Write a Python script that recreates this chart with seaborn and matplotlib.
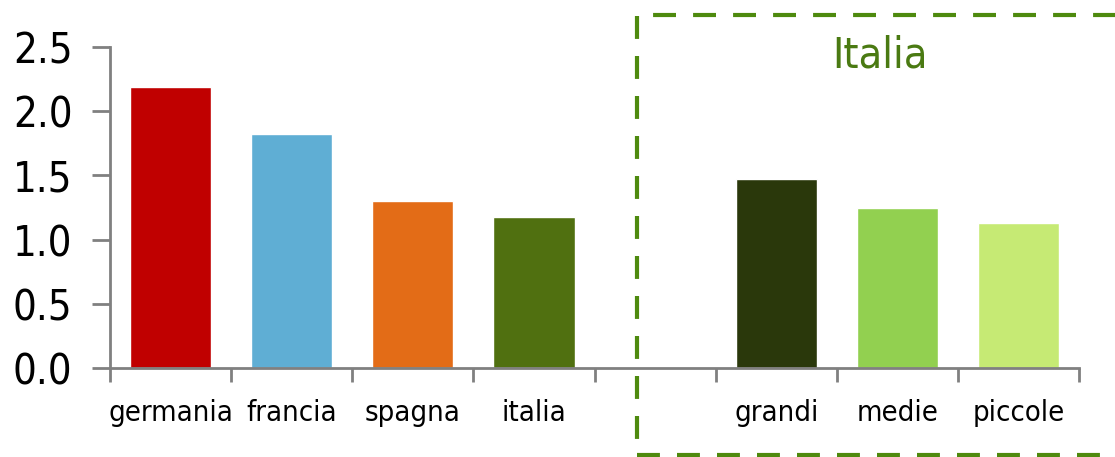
import pandas as pd
import numpy as np
import matplotlib.pyplot as plt
import seaborn as sns
from matplotlib.patches import Rectangle

# Data
categorie = ["germania", "francia", "spagna", "italia", "grandi", "medie", "piccole"]
valori = [2.19, 1.82, 1.30, 1.18, 1.47, 1.25, 1.13]
colori = ["#C00000", "#5FAED4", "#E36C17", "#507010", "#2A380B", "#92D050", "#C6EA74"]
ordine = ["germania", "francia", "spagna", "italia", "vuoto", "grandi", "medie", "piccole"]
etichette = ["germania", "francia", "spagna", "italia", "", "grandi", "medie", "piccole"]
y_ticks = [0.0, 0.5, 1.0, 1.5, 2.0, 2.5]

df = pd.DataFrame({"cat": categorie, "val": valori})

sns.set_style("white")
plt.rcParams['font.family'] = ['DejaVu Sans']
plt.rcParams['font.stretch'] = 'condensed'

fig = plt.figure(figsize=(11.15, 4.57), dpi=100)
ax = fig.add_axes([0.0987, 0.1947, 0.869, 0.7023])

sns.barplot(data=df, x="cat", y="val", hue="cat", order=ordine,
            palette=dict(zip(categorie, colori)), legend=False,
            width=0.67, saturation=1, ax=ax)

ax.set_xlim(-0.5, 7.5)
ax.set_ylim(0, 2.5)
ax.set_xlabel("")
ax.set_ylabel("")

# ticks at boundaries, labels at centres
ax.set_xticks(np.arange(-0.5, 8, 1))
ax.set_xticklabels([])
ax.set_xticks(np.arange(8), minor=True)
ax.set_xticklabels(etichette, minor=True, fontsize=21, color="black",
                   fontstretch="condensed")
ax.tick_params(axis="x", which="minor", bottom=False, length=0, pad=22)
ax.tick_params(axis="x", which="major", bottom=True, length=10, width=2,
               color="#808080", direction="out")

ax.set_yticks(y_ticks)
ax.set_yticklabels([f"{v:.1f}" for v in y_ticks], fontsize=30, color="black",
                   fontstretch="condensed")
ax.tick_params(axis="y", left=True, length=13, width=2, color="#808080",
               direction="out", pad=14)

sns.despine(ax=ax, top=True, right=True)
for s in ["left", "bottom"]:
    ax.spines[s].set_color("#808080")
    ax.spines[s].set_linewidth(2)

# riquadro tratteggiato Italia
box = Rectangle((637 / 1115, 2 / 457), 0.5, 440 / 457, transform=fig.transFigure,
                fill=False, edgecolor="#4E8A0E", linewidth=3,
                linestyle=(0, (5.5, 4.1)), clip_on=False)
fig.patches.append(box)
fig.text(880 / 1115, 1 - 55 / 457, "Italia", color="#4A7A12", fontsize=31,
         ha="center", va="center", fontstretch="condensed")

fig.savefig("out.png", dpi=100)
